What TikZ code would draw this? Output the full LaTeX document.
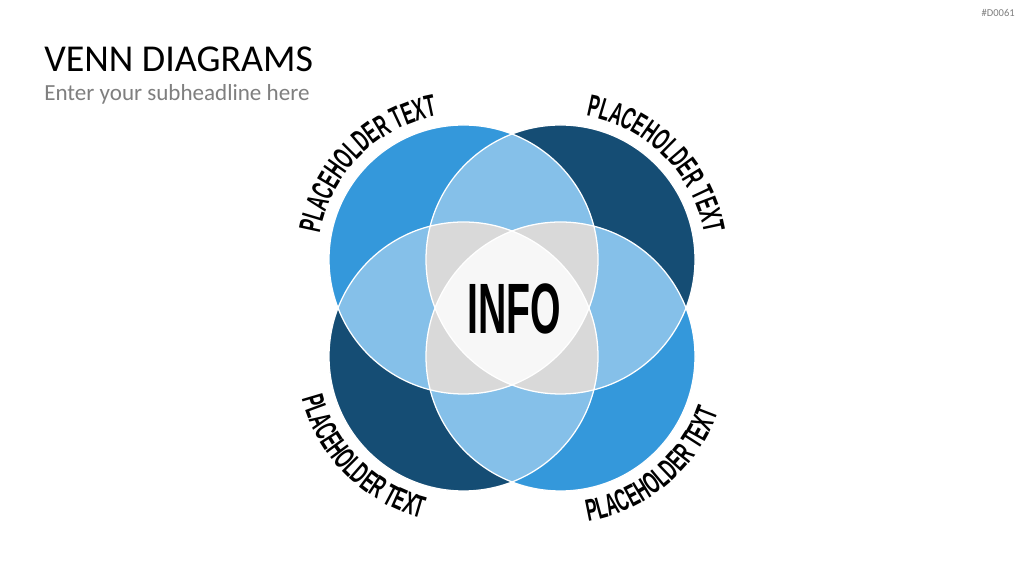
\documentclass[tikz,border=0pt]{standalone}
\usepackage{fontspec}
\setmainfont{Carlito}
\newfontfamily\labelfont[FakeStretch=0.55]{Liberation Sans}
\newfontfamily\infofont[FakeStretch=0.55]{Liberation Sans}
\newcommand{\labelstyle}{\labelfont\bfseries\fontsize{22}{26}\selectfont}
\newcommand{\vennrad}{134.5}
\usetikzlibrary{decorations.text}
\definecolor{vennlight}{RGB}{52,152,219}
\definecolor{venndark}{RGB}{21,77,116}
\definecolor{vennpair}{RGB}{133,192,233}
\definecolor{venntriple}{RGB}{217,217,217}
\definecolor{vennall}{RGB}{247,247,247}
\definecolor{subgray}{RGB}{127,127,127}

\begin{document}
\begin{tikzpicture}[
  x=0.025cm, y=0.025cm,
  title/.style={anchor=base west, inner sep=0pt, font=\fontsize{27}{32}\selectfont},
  subtitle/.style={anchor=base west, inner sep=0pt, text=subgray,
                   font=\fontsize{16.4}{20}\selectfont},
  tag/.style={anchor=base east, inner sep=0pt, text=subgray, font=\fontsize{7.5}{9}\selectfont},
  ring/.style={draw=white, line width=0.9pt},
  curved/.style={decorate, decoration={text along path, text align=center,
                 text={|\labelstyle|#1}}},
]
  % Canvas
  \fill[white] (0,0) rectangle (1024,576);
  \useasboundingbox (0,0) rectangle (1024,576);

  % Headings
  \node[title] (head) at (44,504) {VENN DIAGRAMS};
  \node[subtitle] (subhead) at (44,475) {Enter your subheadline here};
  \node[tag] (code) at (1015,559) {\#D0061};

  % Circle centres
  \coordinate (tl) at (463.5,316.5);
  \coordinate (tr) at (560.5,316.5);
  \coordinate (bl) at (463.5,219.5);
  \coordinate (br) at (560.5,219.5);

  % Circles
  \fill[vennlight] (tl) circle[radius=\vennrad];
  \fill[venndark]  (tr) circle[radius=\vennrad];
  \fill[venndark]  (bl) circle[radius=\vennrad];
  \fill[vennlight] (br) circle[radius=\vennrad];

  % Overlaps of two
  \foreach \a/\b in {tl/tr, tl/bl, tl/br, tr/bl, tr/br, bl/br} {
    \begin{scope}
      \clip (\a) circle[radius=\vennrad];
      \fill[vennpair] (\b) circle[radius=\vennrad];
    \end{scope}
  }

  % Overlaps of three
  \foreach \a/\b/\c in {tl/tr/bl, tl/tr/br, tl/bl/br, tr/bl/br} {
    \begin{scope}
      \clip (\a) circle[radius=\vennrad];
      \clip (\b) circle[radius=\vennrad];
      \fill[venntriple] (\c) circle[radius=\vennrad];
    \end{scope}
  }

  % Overlap of all four
  \begin{scope}
    \clip (tl) circle[radius=\vennrad];
    \clip (tr) circle[radius=\vennrad];
    \clip (bl) circle[radius=\vennrad];
    \fill[vennall] (br) circle[radius=\vennrad];
  \end{scope}

  % Outlines
  \foreach \c in {tl,tr,bl,br} { \draw[ring] (\c) circle[radius=\vennrad]; }

  % Centre text
  \node[inner sep=0pt, font=\infofont\bfseries\fontsize{50.7}{60}\selectfont] (info) at (514,267) {INFO};

  % Curved labels
  \path[curved={PLACEHOLDER TEXT}] (tl) ++(175:146) arc[start angle=175, end angle=95, radius=146];
  \path[curved={PLACEHOLDER TEXT}] (tr) ++(85:146) arc[start angle=85, end angle=5, radius=146];
  \path[curved={PLACEHOLDER TEXT}] (bl) ++(180:167) arc[start angle=180, end angle=270, radius=167];
  \path[curved={PLACEHOLDER TEXT}] (br) ++(265:167) arc[start angle=265, end angle=355, radius=167];

\end{tikzpicture}
\end{document}
